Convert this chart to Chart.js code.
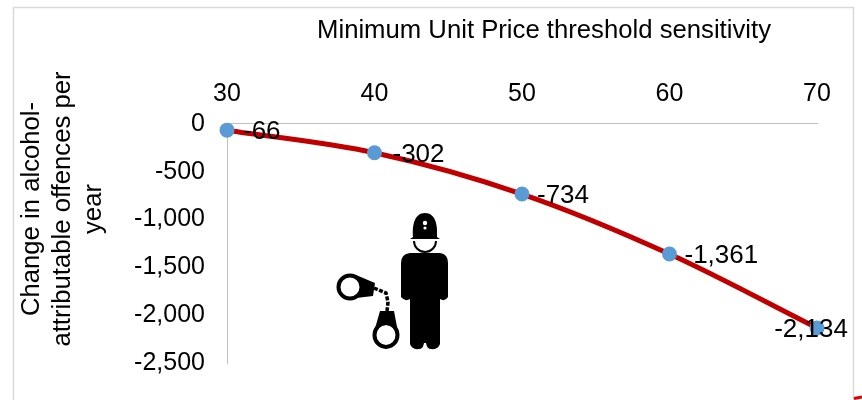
<!DOCTYPE html>
<html>
<head>
<meta charset="utf-8">
<style>
  body { margin: 0; background: #fff; }
  canvas { display: block; }
</style>
<script src="https://cdn.jsdelivr.net/npm/chart.js@4"></script>
</head>
<body>
<canvas id="sensitivityChart" width="862" height="400"></canvas>
<script>
const thresholds = [30, 40, 50, 60, 70];
const offenceChange = [-66, -302, -734, -1361, -2134];
const yTicks = [0, -500, -1000, -1500, -2000, -2500];
const chartTitle = 'Minimum Unit Price threshold sensitivity';
const yTitleLines = ['Change in alcohol-', 'attributable offences per', 'year'];

const fontFamily = '"Liberation Sans", Arial, sans-serif';
const fontSize = 25;
const titleSize = 25.7;
const labelSize = 26;

// Data labels sit right of each point, the last one is centred a bit left of it
const labelOffsets = [16, 18, 15, 15, -6];

const decorations = {
    id: 'decorations',
    beforeDraw(chart) {
        const { ctx } = chart;
        ctx.save();
        // Outer frame
        ctx.strokeStyle = '#d9d9d9';
        ctx.lineWidth = 1.5;
        ctx.beginPath();
        ctx.moveTo(13.5, 400);
        ctx.lineTo(13.5, 7.5);
        ctx.lineTo(853.5, 7.5);
        ctx.lineTo(853.5, 400);
        ctx.stroke();
        // Bit of the next shape showing in the corner
        ctx.strokeStyle = '#e00000';
        ctx.lineWidth = 3;
        ctx.beginPath();
        ctx.moveTo(854, 398.5);
        ctx.lineTo(862, 397);
        ctx.stroke();
        // Y axis title, three rotated lines
        ctx.fillStyle = '#000';
        ctx.font = `${titleSize}px ${fontFamily}`;
        ctx.textAlign = 'center';
        ctx.textBaseline = 'middle';
        yTitleLines.forEach((line, i) => {
            ctx.save();
            ctx.translate(32 + i * 31, 209);
            ctx.rotate(-Math.PI / 2);
            ctx.fillText(line, 0, 0);
            ctx.restore();
        });
        ctx.restore();
        drawOfficer(ctx);
        drawCuffs(ctx);
    },
    afterDatasetsDraw(chart) {
        const { ctx } = chart;
        const meta = chart.getDatasetMeta(0);
        ctx.save();
        ctx.fillStyle = '#000';
        ctx.font = `${labelSize}px ${fontFamily}`;
        ctx.textBaseline = 'middle';
        offenceChange.forEach((value, i) => {
            const pt = meta.data[i];
            ctx.textAlign = labelOffsets[i] < 0 ? 'center' : 'left';
            ctx.fillText(value.toLocaleString('en-US'), pt.x + labelOffsets[i], pt.y + 2);
        });
        ctx.restore();
    },
    afterLayout(chart) {
        // Title is centred on 544, not on the page
        chart.titleBlock.left = 271;
    }
};

function drawOfficer(ctx) {
    ctx.save();
    ctx.fillStyle = '#000';
    // helmet
    ctx.beginPath();
    ctx.moveTo(413, 237);
    ctx.bezierCurveTo(412, 224, 415, 213, 425, 213);
    ctx.bezierCurveTo(435, 213, 438, 224, 437, 237);
    ctx.lineTo(440, 239);
    ctx.lineTo(410, 239);
    ctx.closePath();
    ctx.fill();
    // chin strap ring around the face
    ctx.strokeStyle = '#000';
    ctx.lineWidth = 2;
    ctx.beginPath();
    ctx.arc(425, 241, 11, 0, Math.PI);
    ctx.stroke();
    // badge
    ctx.fillStyle = '#fff';
    ctx.beginPath();
    ctx.arc(425, 223, 2.2, 0, Math.PI * 2);
    ctx.arc(425, 228, 1.6, 0, Math.PI * 2);
    ctx.fill();
    // body and legs
    ctx.fillStyle = '#000';
    ctx.beginPath();
    ctx.moveTo(410, 253);
    ctx.lineTo(440, 253);
    ctx.quadraticCurveTo(448, 254, 448, 263);
    ctx.lineTo(448, 297);
    ctx.quadraticCurveTo(445, 302, 440, 299);
    ctx.lineTo(440, 344);
    ctx.quadraticCurveTo(438, 350, 431, 349);
    ctx.quadraticCurveTo(427, 349, 426, 343);
    ctx.lineTo(424, 343);
    ctx.quadraticCurveTo(423, 349, 419, 349);
    ctx.quadraticCurveTo(412, 350, 410, 344);
    ctx.lineTo(410, 299);
    ctx.quadraticCurveTo(405, 302, 401, 297);
    ctx.lineTo(401, 263);
    ctx.quadraticCurveTo(401, 254, 410, 253);
    ctx.closePath();
    ctx.fill();
    ctx.restore();
}

function drawCuffs(ctx) {
    ctx.save();
    ctx.fillStyle = '#000';
    ctx.strokeStyle = '#000';
    // upper cuff
    ctx.lineWidth = 4;
    ctx.beginPath();
    ctx.ellipse(350, 287, 11.5, 11.5, 0, 0, Math.PI * 2);
    ctx.stroke();
    ctx.beginPath();
    ctx.moveTo(356, 275);
    ctx.lineTo(375, 283);
    ctx.lineTo(373, 296);
    ctx.lineTo(356, 298);
    ctx.quadraticCurveTo(365, 287, 356, 275);
    ctx.fill();
    // lower cuff
    ctx.beginPath();
    ctx.ellipse(386, 335, 11.5, 12, 0, 0, Math.PI * 2);
    ctx.stroke();
    ctx.beginPath();
    ctx.moveTo(380, 311);
    ctx.lineTo(394, 311);
    ctx.lineTo(398, 332);
    ctx.quadraticCurveTo(386, 318, 374, 332);
    ctx.closePath();
    ctx.fill();
    // chain
    ctx.lineWidth = 3.5;
    ctx.setLineDash([4, 1.5]);
    ctx.beginPath();
    ctx.moveTo(374, 288);
    ctx.lineTo(386, 293);
    ctx.lineTo(388, 302);
    ctx.lineTo(387, 311);
    ctx.stroke();
    ctx.restore();
}

new Chart(document.getElementById('sensitivityChart').getContext('2d'), {
    type: 'line',
    data: {
        labels: thresholds,
        datasets: [{
            data: thresholds.map((x, i) => ({ x: x, y: offenceChange[i] })),
            borderColor: '#c00000',
            borderWidth: 5,
            cubicInterpolationMode: 'monotone',
            clip: false,
            pointBackgroundColor: '#5b9bd5',
            pointBorderColor: '#5b9bd5',
            pointRadius: 5
        }]
    },
    options: {
        responsive: false,
        animation: false,
        layout: { padding: { left: 0, right: 45, top: 0, bottom: 30 }, autoPadding: false },
        plugins: {
            legend: { display: false },
            tooltip: { enabled: false },
            title: {
                display: true,
                text: chartTitle,
                color: '#000',
                font: { family: fontFamily, size: titleSize, weight: 'normal' },
                padding: { top: 15, bottom: 0 }
            }
        },
        scales: {
            x: {
                type: 'linear',
                position: 'top',
                min: 30,
                max: 70,
                afterBuildTicks: (axis) => { axis.ticks = thresholds.map(v => ({ value: v })); },
                afterFit: (axis) => { axis.height = 78; },
                grid: { display: false, drawTicks: false },
                border: { color: '#bfbfbf', width: 1 },
                ticks: {
                    color: '#000',
                    padding: 15,
                    maxRotation: 0,
                    font: { family: fontFamily, size: fontSize }
                }
            },
            y: {
                min: -2500,
                max: 0,
                afterBuildTicks: (axis) => { axis.ticks = yTicks.map(v => ({ value: v })); },
                afterFit: (axis) => { axis.width = 227; },
                grid: { display: false, drawTicks: false },
                border: { color: '#bfbfbf', width: 1 },
                ticks: {
                    color: '#000',
                    padding: 22,
                    font: { family: fontFamily, size: fontSize },
                    callback: (value) => value.toLocaleString('en-US')
                }
            }
        }
    },
    plugins: [decorations]
});
</script>
</body>
</html>
